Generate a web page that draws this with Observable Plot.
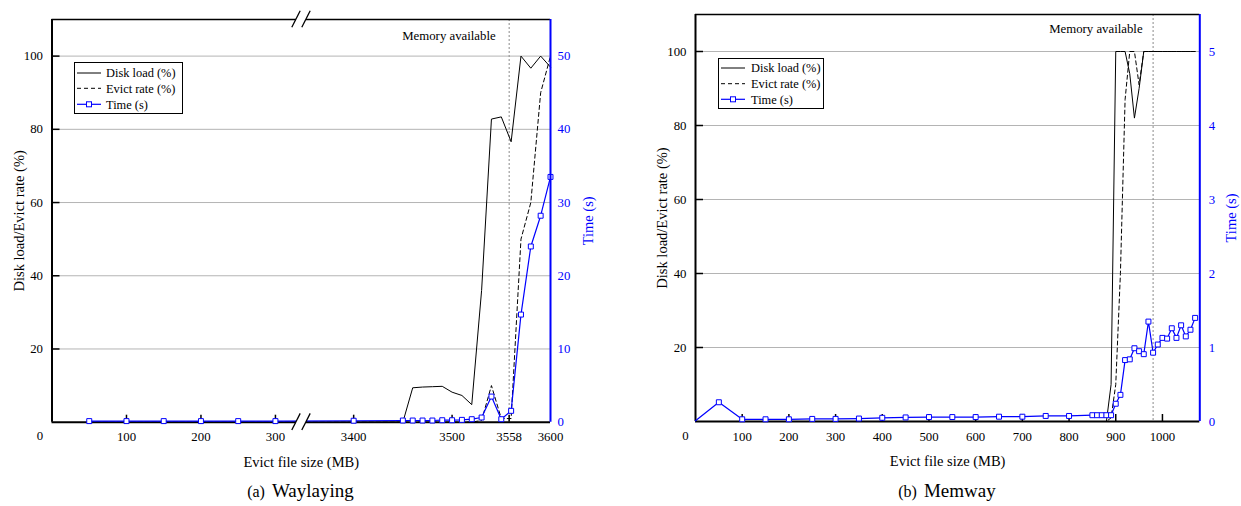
<!DOCTYPE html>
<html><head><meta charset="utf-8">
<script src="https://cdn.jsdelivr.net/npm/d3@7"></script>
<script src="https://cdn.jsdelivr.net/npm/@observablehq/plot@0.6"></script>
<style>
body{margin:0;background:#fff;font-family:"Liberation Serif","Times New Roman",serif;}
#wrap{position:relative;width:1241px;height:506px;overflow:hidden;}
.panel{position:absolute;top:0;}
.cap{position:absolute;top:476px;height:30px;line-height:30px;text-align:center;color:#000;white-space:nowrap;}
.cap .ab{font-size:16px;}
.cap .nm{font-size:19px;margin-left:7px;}
.legend{position:absolute;box-sizing:border-box;border:1px solid #000;background:#fff;}
</style></head><body><div id="wrap"></div>
<script>
const FONT = '"Liberation Serif","Times New Roman",serif';
const BLUE = "#0000ff";
const GRID = [20, 40, 60, 80, 100];
const LEGEND_LABELS = ["Disk load (%)", "Evict rate (%)", "Time (s)"];

// (a) Waylaying
const wlX = [50,100,150,200,250,300,3400,3450,3460,3470,3480,3490,3500,3510,3520,3530,3540,3550,3560,3570,3580,3590,3600];
const wlDisk = [0,0,0,0,0,0,0,0,9.4,9.6,9.7,9.8,8.2,7.3,4.8,36,82.8,83.4,76.6,100,96.7,100,97];
const wlEvict = [0,0,0,0,0,0,0,0,0,0,0,0,0,0,0,0.5,10,1,1,50,60,90,100];
const wlTime = [0.15,0.15,0.15,0.15,0.15,0.15,0.2,0.23,0.23,0.23,0.23,0.27,0.27,0.32,0.41,0.64,3.5,0.41,1.55,14.7,24.0,28.2,33.5];
const wlXTicks = [100,200,300,3400,3500,3558,3600];
const wlTimeTicks = [0,10,20,30,40,50];
const wlMemory = 3558;

// (b) Memway
const mwX = [0,50,100,150,200,250,300,350,400,450,500,550,600,650,700,750,800,850,860,870,880,890,900,910,920,930,940,950,960,970,980,990,1000,1010,1020,1030,1040,1050,1060,1070];
const mwDisk = [0,0,0,0,0,0,0,0,0,0,0,0,0,0,0,0,0,0,0,0,0,10,100,100,100,94,82,90,100,100,100,100,100,100,100,100,100,100,100,100];
const mwEvict = [0,0,0,0,0,0,0,0,0,0,0,0,0,0,0,0,0,0,0,0,0,1,10,40,87,100,100,91,100,100,100,100,100,100,100,100,100,100,100,100];
const mwTime = [0.01,0.26,0.03,0.03,0.03,0.035,0.035,0.04,0.05,0.055,0.06,0.06,0.06,0.065,0.065,0.075,0.075,0.085,0.085,0.085,0.085,0.085,0.24,0.36,0.83,0.84,0.99,0.95,0.91,1.35,0.93,1.04,1.13,1.12,1.26,1.13,1.30,1.15,1.24,1.40];
const mwXTicks = [100,200,300,400,500,600,700,800,900,1000];
const mwTimeTicks = [0,1,2,3,4,5];
const mwMemory = 980;

const H = 475;

function breakMark(bx) {
  return (index, scales, values, dims) => {
    const px = scales.x(bx);
    const g = d3.create("svg:g");
    for (const py of [dims.marginTop, dims.height - dims.marginBottom]) {
      g.append("rect").attr("x", px - 5).attr("y", py - 2.5).attr("width", 10).attr("height", 5).attr("fill", "#fff");
      for (const off of [-5, 5]) {
        g.append("line")
          .attr("x1", px + off - 4.2).attr("y1", py + 8.3)
          .attr("x2", px + off + 4.2).attr("y2", py - 8.3)
          .attr("stroke", "#000").attr("stroke-width", 1.3);
      }
    }
    return g.node();
  };
}

function makePanel(cfg) {
  const rows = cfg.X.map((x, i) => ({x, disk: cfg.disk[i], evict: cfg.evict[i], t: cfg.time[i] * cfg.tf}));
  const plotW = cfg.width - cfg.ml - cfg.mr, plotH = H - cfg.mt - cfg.mb;
  const x0 = cfg.xDomain[0], x1 = cfg.xDomain[cfg.xDomain.length - 1];
  const marks = [
    Plot.ruleY(GRID, {stroke: "#b4b4b4", strokeWidth: 1}),
    Plot.ruleX([cfg.mem], {stroke: "#8a8a8a", strokeDasharray: "2,2", strokeWidth: 1}),
    Plot.text(["Memory available"], {x: cfg.mem, y: cfg.memY, dx: cfg.memDx, textAnchor: "end", lineAnchor: "middle", fontSize: 12.8, fill: "#000"}),
    Plot.ruleY([0], {stroke: "#000", strokeWidth: 2}),
    Plot.ruleY([110], {stroke: "#000", strokeWidth: 1.5}),
    Plot.ruleX([x0], {stroke: "#000", strokeWidth: 2}),
    Plot.tickY(GRID, {y: d => d, stroke: "#000", strokeWidth: 1.5, insetRight: plotW - 8}),
    Plot.tickX(cfg.tickMarks, {x: d => d, stroke: "#000", strokeWidth: 1.5, insetTop: plotH - 7}),
    Plot.line(rows, {x: "x", y: "disk", stroke: "#000", strokeWidth: 1}),
    Plot.line(rows, {x: "x", y: "evict", stroke: "#000", strokeWidth: 1, strokeDasharray: "4,3"}),
    Plot.line(rows, {x: "x", y: "t", stroke: BLUE, strokeWidth: 1.2}),
    Plot.dot(rows.filter(r => r.x > 0), {x: "x", y: "t", symbol: "square", r: 2.8, stroke: BLUE, fill: "#fff", strokeWidth: 1}),
    Plot.ruleX([x1], {stroke: BLUE, strokeWidth: 2}),
    Plot.axisY(GRID, {anchor: "left", tickSize: 0, tickPadding: 9, tickFormat: d => String(d), fontSize: 12.8, label: null}),
    Plot.axisY(cfg.timeTicks.map(v => v * cfg.tf), {anchor: "right", tickSize: 0, tickPadding: cfg.rpad, tickFormat: d => String(Math.round(d / cfg.tf)), fill: BLUE, color: BLUE, fontSize: 12.8, label: null}),
    Plot.axisX(cfg.xTicks, {anchor: "bottom", tickSize: 0, tickPadding: 10, tickFormat: d => String(d), fontSize: 12.8, label: null}),
    Plot.text(["0"], {x: x0, frameAnchor: "bottom", dy: 14, dx: cfg.zeroDx, lineAnchor: "middle", textAnchor: "middle", fontSize: 12.8}),
    Plot.text(["Evict file size (MB)"], {frameAnchor: "bottom", dy: 40, textAnchor: "middle", lineAnchor: "middle", fontSize: 14.5}),
    Plot.text(["Disk load/Evict rate (%)"], {frameAnchor: "left", rotate: -90, dx: cfg.ydx, textAnchor: "middle", lineAnchor: "middle", fontSize: 14.5}),
    Plot.text(["Time (s)"], {frameAnchor: "right", rotate: -90, dx: cfg.tdx, textAnchor: "middle", lineAnchor: "middle", fontSize: 14.5, fill: BLUE})
  ];
  if (cfg.breakAt !== undefined) marks.push(breakMark(cfg.breakAt));
  const svg = Plot.plot({
    width: cfg.width, height: H,
    marginLeft: cfg.ml, marginRight: cfg.mr, marginTop: cfg.mt, marginBottom: cfg.mb,
    style: {fontFamily: FONT, fontSize: "12.8px", background: "#fff", color: "#000", overflow: "visible"},
    x: cfg.xRange ? {type: "linear", domain: cfg.xDomain, range: cfg.xRange} : {domain: cfg.xDomain},
    y: {domain: [0, 110]},
    marks
  });
  const div = document.createElement("div");
  div.className = "panel";
  div.style.left = cfg.left + "px";
  div.appendChild(svg);
  document.getElementById("wrap").appendChild(div);
}

function makeLegend(left, top, w, h, ys, lineX0, lineX1, textX) {
  const div = document.createElement("div");
  div.className = "legend";
  Object.assign(div.style, {left: left + "px", top: top + "px", width: w + "px", height: h + "px"});
  const svg = d3.create("svg").attr("width", w - 2).attr("height", h - 2).style("position", "absolute").style("left", "0").style("top", "0");
  const styles = [{stroke: "#000", dash: null}, {stroke: "#000", dash: "4,3"}, {stroke: BLUE, dash: null}];
  LEGEND_LABELS.forEach((lab, i) => {
    const s = styles[i];
    svg.append("line").attr("x1", lineX0).attr("x2", lineX1).attr("y1", ys[i]).attr("y2", ys[i])
      .attr("stroke", s.stroke).attr("stroke-width", i === 2 ? 1.2 : 1).attr("stroke-dasharray", s.dash);
    if (i === 2) {
      const cx = (lineX0 + lineX1) / 2;
      svg.append("rect").attr("x", cx - 2.5).attr("y", ys[i] - 2.5).attr("width", 5).attr("height", 5)
        .attr("fill", "#fff").attr("stroke", BLUE).attr("stroke-width", 1);
    }
    svg.append("text").attr("x", textX).attr("y", ys[i]).attr("dy", "0.35em")
      .attr("font-family", FONT).attr("font-size", 12.4).attr("fill", "#000").text(lab);
  });
  div.appendChild(svg.node());
  document.getElementById("wrap").appendChild(div);
}

function makeCaption(left, width, ab, name) {
  const div = document.createElement("div");
  div.className = "cap";
  Object.assign(div.style, {left: left + "px", width: width + "px"});
  const a = document.createElement("span"); a.className = "ab"; a.textContent = ab;
  const n = document.createElement("span"); n.className = "nm"; n.textContent = name;
  div.appendChild(a); div.appendChild(n);
  document.getElementById("wrap").appendChild(div);
}

makePanel({
  left: 0, width: 620, ml: 51.5, mr: 70, mt: 19, mb: 53.3,
  X: wlX, disk: wlDisk, evict: wlEvict, time: wlTime, tf: 2,
  xDomain: [0, 335, 3347, 3600], xRange: [51.5, 301, 301, 550],
  xTicks: wlXTicks, tickMarks: wlXTicks.slice(0, -1), timeTicks: wlTimeTicks,
  mem: wlMemory, memY: 105.5, memDx: -13.5, zeroDx: -12, rpad: 7,
  ydx: -33, tdx: 38, breakAt: 1000
});
makePanel({
  left: 620, width: 621, ml: 75, mr: 41.7, mt: 14, mb: 54,
  X: mwX, disk: mwDisk, evict: mwEvict, time: mwTime, tf: 20,
  xDomain: [0, 1080],
  xTicks: mwXTicks, tickMarks: mwXTicks, timeTicks: mwTimeTicks,
  mem: mwMemory, memY: 106, memDx: -10.5, zeroDx: -10, rpad: 9,
  ydx: -33, tdx: 32
});
makeLegend(74, 62, 109, 52, [10, 25.3, 41.3], 2, 26, 31);
makeLegend(718, 58, 106, 51, [9, 24.7, 40.3], 2, 26, 32);
makeCaption(0, 601, "(a)", "Waylaying");
makeCaption(695, 504, "(b)", "Memway");
</script></body></html>
